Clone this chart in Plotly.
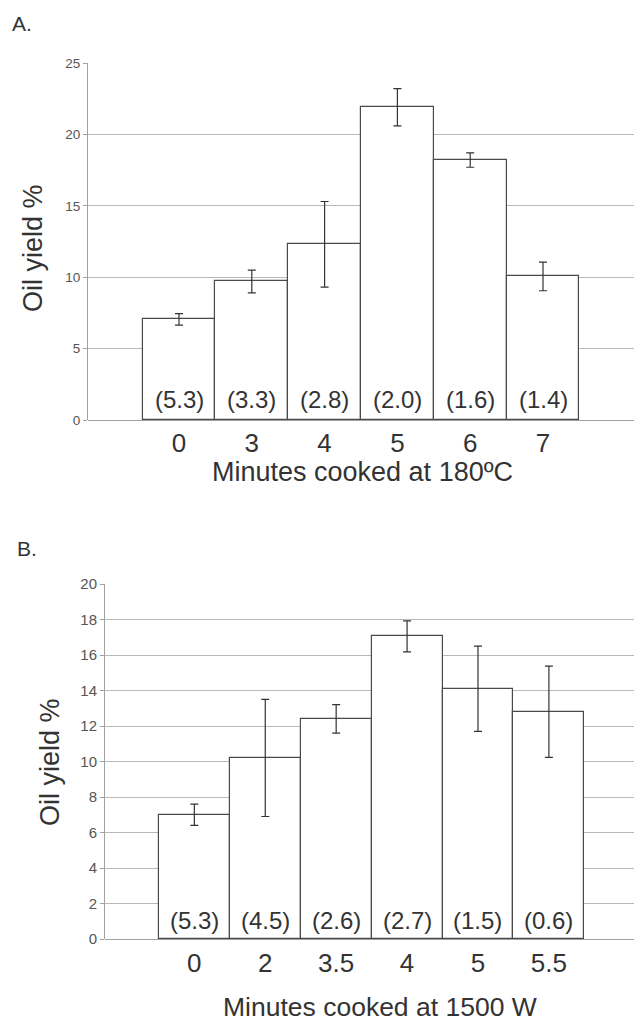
import plotly.graph_objects as go

# Panel A data
cats_a = ["0", "3", "4", "5", "6", "7"]
yield_a = [7.05, 9.7, 12.3, 21.9, 18.2, 10.05]
err_a = [0.4, 0.8, 3.0, 1.3, 0.5, 1.0]
labels_a = ["(5.3)", "(3.3)", "(2.8)", "(2.0)", "(1.6)", "(1.4)"]

# Panel B data
cats_b = ["0", "2", "3.5", "4", "5", "5.5"]
yield_b = [7.0, 10.2, 12.4, 17.05, 14.1, 12.8]
err_b = [0.6, 3.3, 0.8, 0.87, 2.4, 2.57]
labels_b = ["(5.3)", "(4.5)", "(2.6)", "(2.7)", "(1.5)", "(0.6)"]

FONT = "Liberation Sans, Arial, sans-serif"
W, H = 634, 1023

fig = go.Figure()

bar_line = dict(color="#4a4a4a", width=1.2)
err_style = dict(type="data", thickness=1.2, width=4, color="#333333")

fig.add_trace(go.Bar(x=cats_a, y=yield_a, xaxis="x", yaxis="y",
                     marker=dict(color="white", line=bar_line),
                     error_y=dict(array=err_a, **err_style), showlegend=False))
fig.add_trace(go.Bar(x=cats_b, y=yield_b, xaxis="x2", yaxis="y2",
                     marker=dict(color="white", line=bar_line),
                     error_y=dict(array=err_b, **err_style), showlegend=False))


def px_x(p):
    return p / W


def px_y(p):
    return 1 - p / H


xa = dict(showgrid=False, zeroline=False, showline=False, ticks="",
          tickfont=dict(family=FONT, size=26, color="#333333"))
ya_common = dict(showgrid=True, gridcolor="#b8b8b8", gridwidth=1,
                 zeroline=True, zerolinecolor="#a0a0a0", zerolinewidth=1,
                 showline=True, linecolor="#a0a0a0", linewidth=1,
                 ticks="outside", ticklen=4, tickcolor="#a0a0a0")

fig.update_layout(
    width=W, height=H,
    margin=dict(l=0, r=0, t=0, b=0, autoexpand=False),
    paper_bgcolor="white", plot_bgcolor="white",
    bargap=0,
    font=dict(family=FONT),
    xaxis=dict(domain=[px_x(88), 1], anchor="y", type="category",
               range=[-1.25, 6.25], ticklabelstandoff=5, automargin=False, **xa),
    yaxis=dict(domain=[px_y(420), px_y(63)], anchor="x", range=[0, 25], dtick=5,
               automargin=False,
               tickfont=dict(family=FONT, size=13.5, color="#555555"), **ya_common),
    xaxis2=dict(domain=[px_x(105), 1], anchor="y2", type="category",
                range=[-1.26, 6.2], ticklabelstandoff=6, automargin=False, **xa),
    yaxis2=dict(domain=[px_y(939), px_y(584)], anchor="x2", range=[0, 20], dtick=2,
                automargin=False,
                tickfont=dict(family=FONT, size=15, color="#555555"), **ya_common),
)

ann = []
for i, t in enumerate(labels_a):
    ann.append(dict(x=i, y=0, xref="x", yref="y", text=t, showarrow=False,
                    yanchor="middle", yshift=20,
                    font=dict(family=FONT, size=24, color="#333333")))
for i, t in enumerate(labels_b):
    ann.append(dict(x=i, y=0, xref="x2", yref="y2", text=t, showarrow=False,
                    yanchor="middle", yshift=19,
                    font=dict(family=FONT, size=24, color="#333333")))

ann += [
    dict(x=px_x(10), y=px_y(24), xref="paper", yref="paper", text="A.", showarrow=False,
         xanchor="left", yanchor="middle", font=dict(family=FONT, size=21, color="#333333")),
    dict(x=px_x(15), y=px_y(548), xref="paper", yref="paper", text="B.", showarrow=False,
         xanchor="left", yanchor="middle", font=dict(family=FONT, size=21, color="#333333")),
    dict(x=px_x(362), y=px_y(472), xref="paper", yref="paper", text="Minutes cooked at 180ºC",
         showarrow=False, xanchor="center", yanchor="middle",
         font=dict(family=FONT, size=27, color="#333333")),
    dict(x=px_x(380), y=px_y(1007), xref="paper", yref="paper", text="Minutes cooked at 1500 W",
         showarrow=False, xanchor="center", yanchor="middle",
         font=dict(family=FONT, size=26.5, color="#333333")),
    dict(x=px_x(33), y=px_y(248), xref="paper", yref="paper", text="Oil yield %",
         showarrow=False, textangle=-90, xanchor="center", yanchor="middle",
         font=dict(family=FONT, size=27, color="#333333")),
    dict(x=px_x(50), y=px_y(762), xref="paper", yref="paper", text="Oil yield %",
         showarrow=False, textangle=-90, xanchor="center", yanchor="middle",
         font=dict(family=FONT, size=27, color="#333333")),
]
fig.update_layout(annotations=ann)

fig.write_html("out.html", config={"displayModeBar": False},
               post_script="document.body.style.margin='0';document.body.style.overflow='hidden';")
